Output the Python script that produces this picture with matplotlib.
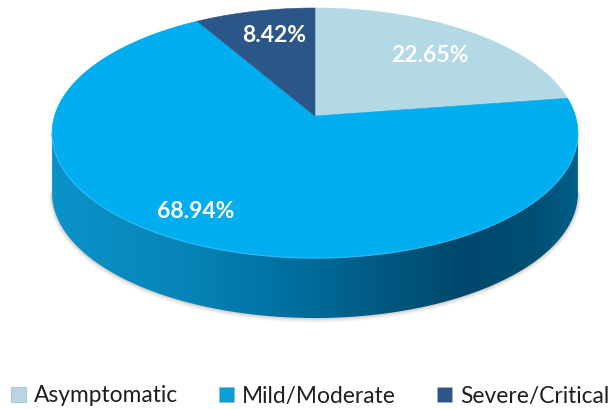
import numpy as np
import matplotlib
matplotlib.use('Agg')
import matplotlib.pyplot as plt
from matplotlib.colors import LinearSegmentedColormap
from matplotlib.patches import Patch, Polygon

categories = ['Asymptomatic', 'Mild/Moderate', 'Severe/Critical']
values = [22.65, 68.94, 8.42]
labels = ['22.65%', '68.94%', '8.42%']
colors = ['#b3d8e6', '#00adef', '#2c5688']
label_pos = [(430, 55), (196, 211), (274, 35)]

# pie geometry in image pixels
apex_x, apex_y = 315, 116
rad_x, rad_y = 260.5, 122.7
persp = 0.136
depth = 60

plt.rcParams['font.family'] = ['Lato', 'DejaVu Sans']
fig = plt.figure(figsize=(6.12, 4.09), dpi=100)
ax = fig.add_axes([0, 0, 1, 1])
ax.set_xlim(0, 612)
ax.set_ylim(409, 0)
ax.axis('off')


def project(theta):
    # clockwise from 12 o'clock, tilted circle seen in perspective
    u = np.sin(theta)
    v = np.cos(theta)
    d = 1 + persp * v
    return apex_x + rad_x * u / d, apex_y - rad_y * v / d


t = np.linspace(0, 2 * np.pi, 721)
x, y = project(t)
left = np.argmin(x)
right = np.argmax(x)
front_x, front_y = x[right:left + 1], y[right:left + 1]
wall = np.concatenate([
    np.column_stack([front_x, front_y]),
    np.column_stack([front_x[::-1], front_y[::-1] + depth]),
])

# soft shadow around the wall
for grow, a in [(3.0, 0.05), (2.0, 0.08), (1.0, 0.12)]:
    ax.plot(front_x, front_y + depth + grow * 0.4, color='#5a4a3a', lw=grow * 1.6,
            alpha=a, solid_capstyle='round', zorder=1)

# side wall with horizontal shading
shade = LinearSegmentedColormap.from_list('wall', [
    (0.0, '#0b93c9'), (0.25, '#0784b8'), (0.45, '#006f9f'),
    (0.62, '#005a84'), (0.78, '#00486b'), (0.92, '#004f74'), (1.0, '#005f88'),
])
im = ax.imshow(np.linspace(0, 1, 512)[None, :], cmap=shade, aspect='auto',
               extent=[x[left], x[right], 330, 100], zorder=2)
clip = Polygon(wall, closed=True, transform=ax.transData)
im.set_clip_path(clip)
ax.set_xlim(0, 612)
ax.set_ylim(409, 0)

# top face, one wedge per value
total = sum(values)
start = 0
for val, col in zip(values, colors):
    stop = start + val / total
    th = np.linspace(start, stop, 300) * 2 * np.pi
    wx, wy = project(th)
    ax.fill(np.r_[apex_x, wx], np.r_[apex_y, wy], color=col, lw=0.4, zorder=3)
    start = stop

# light rim on the front edge
ax.plot(front_x, front_y, color='#2cbcf5', lw=1.0, alpha=0.8, zorder=4)

for lab, (lx, ly) in zip(labels, label_pos):
    ax.text(lx, ly, lab, color='white', fontsize=16.5, fontweight='bold',
            ha='center', va='center', zorder=5)

handles = [Patch(facecolor=c, edgecolor='#9fb4c0', lw=0.5) for c in ['#b7d6e2', '#0a9fd6', '#2c5688']]
ax.legend(handles, categories, loc='center', bbox_to_anchor=(310, 396),
          bbox_transform=ax.transData, ncol=3, frameon=False, fontsize=16.4,
          labelcolor='#1f1f1f', handlelength=0.66, handleheight=0.66,
          handletextpad=0.35, columnspacing=1.8, borderpad=0, borderaxespad=0)

fig.savefig('out.png', dpi=100)
